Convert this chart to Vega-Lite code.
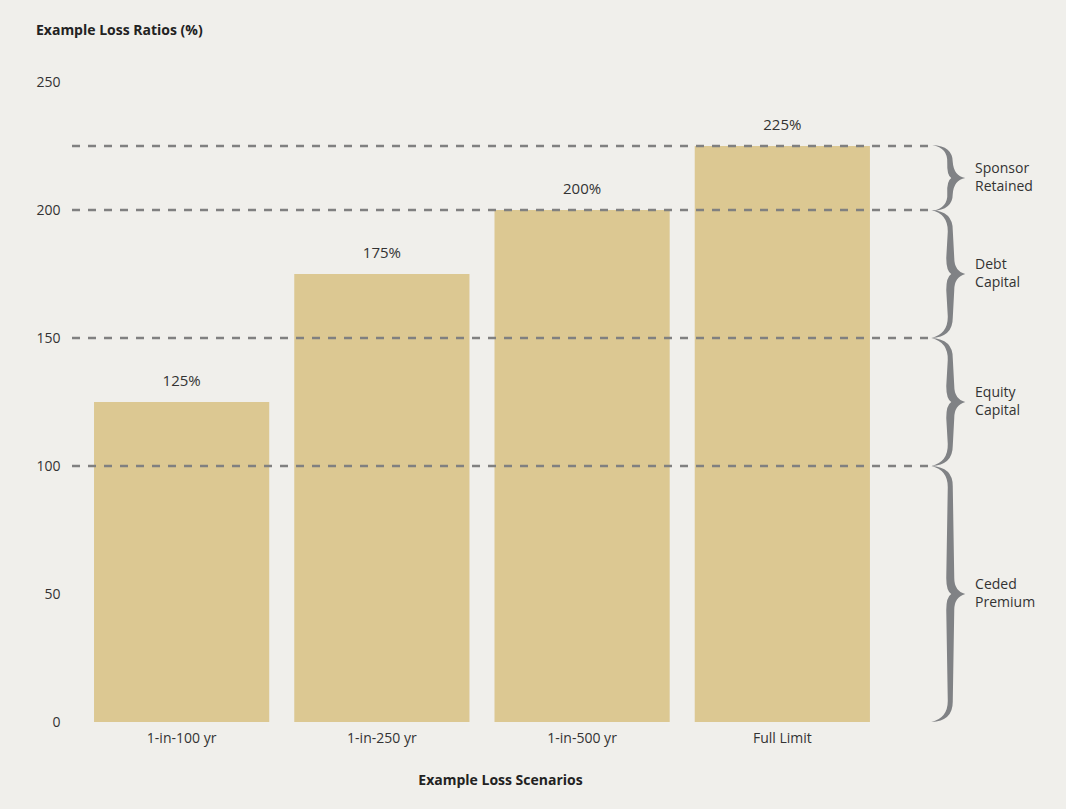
{
  "$schema": "https://vega.github.io/schema/vega-lite/v6.json",
  "width": 856,
  "height": 640,
  "autosize": {"type": "none"},
  "padding": {"left": 72, "top": 82, "right": 138, "bottom": 87},
  "background": "#f0efeb",
  "config": {
    "view": {"stroke": null},
    "font": "Open Sans",
    "text": {"font": "Open Sans"}
  },
  "title": {
    "text": "Example Loss Ratios (%)",
    "anchor": "start",
    "frame": "bounds",
    "fontSize": 14,
    "fontWeight": "bold",
    "color": "#222222",
    "font": "Open Sans",
    "baseline": "bottom",
    "offset": 23
  },
  "datasets": {
    "bars": [
      {"scenario": "1-in-100 yr", "value": 125},
      {"scenario": "1-in-250 yr", "value": 175},
      {"scenario": "1-in-500 yr", "value": 200},
      {"scenario": "Full Limit", "value": 225}
    ],
    "lines": [
      {"level": 100},
      {"level": 150},
      {"level": 200},
      {"level": 225}
    ],
    "braces": [
      {"tranche": "Ceded\nPremium", "mid": 50, "span": "100"},
      {"tranche": "Equity\nCapital", "mid": 125, "span": "50"},
      {"tranche": "Debt\nCapital", "mid": 175, "span": "50"},
      {"tranche": "Sponsor\nRetained", "mid": 212.5, "span": "25"}
    ]
  },
  "layer": [
    {
      "data": {"name": "bars"},
      "encoding": {
        "x": {
          "field": "scenario",
          "type": "nominal",
          "sort": null,
          "scale": {"paddingInner": 0.125, "paddingOuter": 0.2, "align": 0.275},
          "axis": {
            "title": "Example Loss Scenarios",
            "titleFontSize": 14,
            "titleFontWeight": "bold",
            "titleColor": "#222222",
            "titlePadding": 28,
            "labelAngle": 0,
            "labelFontSize": 14,
            "labelColor": "#333333",
            "labelPadding": 9,
            "ticks": false,
            "domain": false,
            "grid": false
          }
        },
        "y": {
          "field": "value",
          "type": "quantitative",
          "scale": {"domain": [0, 250], "nice": false},
          "axis": {
            "title": null,
            "values": [0, 50, 100, 150, 200, 250],
            "labelFontSize": 14,
            "labelColor": "#333333",
            "labelPadding": 12,
            "ticks": false,
            "domain": false,
            "grid": false
          }
        }
      },
      "layer": [
        {"mark": {"type": "bar", "color": "#dcc892"}},
        {
          "mark": {
            "type": "text",
            "fontSize": 15,
            "color": "#333333",
            "baseline": "alphabetic",
            "dy": -16,
            "text": {"expr": "datum.value + '%'"}
          }
        }
      ]
    },
    {
      "data": {"name": "lines"},
      "mark": {"type": "rule", "color": "#808080", "strokeWidth": 2.7, "strokeDash": [8, 8]},
      "encoding": {
        "y": {"field": "level", "type": "quantitative"}
      }
    },
    {
      "data": {"name": "braces"},
      "mark": {"type": "point", "filled": true, "size": 4, "opacity": 1, "color": "#808285", "strokeWidth": 0},
      "encoding": {
        "x": {"datum": 1.026, "type": "quantitative", "scale": {"domain": [0, 1], "nice": false, "zero": true}, "axis": null},
        "y": {"field": "mid", "type": "quantitative"},
        "shape": {
          "field": "span",
          "type": "nominal",
          "legend": null,
          "scale": {
            "domain": ["100", "50", "25"],
            "range": [
              "M -19 -128 Q 2.5 -127 2.5 -108 L 4 -16 Q 4 -3 15 0 Q 4 3 4 16 L 2.5 108 Q 2.5 127 -19 128 Q -2 124 -2.5 106 L -4 16 Q -4 3 1 0 Q -4 -3 -4 -16 L -2.5 -106 Q -2 -124 -19 -128 Z",
              "M -19 -64 Q 2.5 -63 2.5 -44 L 4 -16 Q 4 -3 15 0 Q 4 3 4 16 L 2.5 44 Q 2.5 63 -19 64 Q -2 60 -2.5 42 L -4 16 Q -4 3 1 0 Q -4 -3 -4 -16 L -2.5 -42 Q -2 -60 -19 -64 Z",
              "M -18 -33 Q 2.5 -32 2.5 -16 Q 3.5 -2 15 0 Q 3.5 2 2.5 16 Q 2.5 32 -18 33 Q -2 30 -3 15 Q -3.5 3 1 0 Q -3.5 -3 -3 -15 Q -2 -30 -18 -33 Z"
            ]
          }
        }
      }
    },
    {
      "data": {"name": "braces"},
      "mark": {"type": "text", "align": "left", "baseline": "middle", "dy": -9, "fontSize": 14, "lineHeight": 18, "lineBreak": "\n", "color": "#333333"},
      "encoding": {
        "x": {"datum": 1.055, "type": "quantitative", "scale": {"domain": [0, 1], "nice": false, "zero": true}, "axis": null},
        "y": {"field": "mid", "type": "quantitative"},
        "text": {"field": "tranche", "type": "nominal"}
      }
    }
  ],
  "resolve": {"scale": {"x": "independent", "shape": "independent"}}
}
